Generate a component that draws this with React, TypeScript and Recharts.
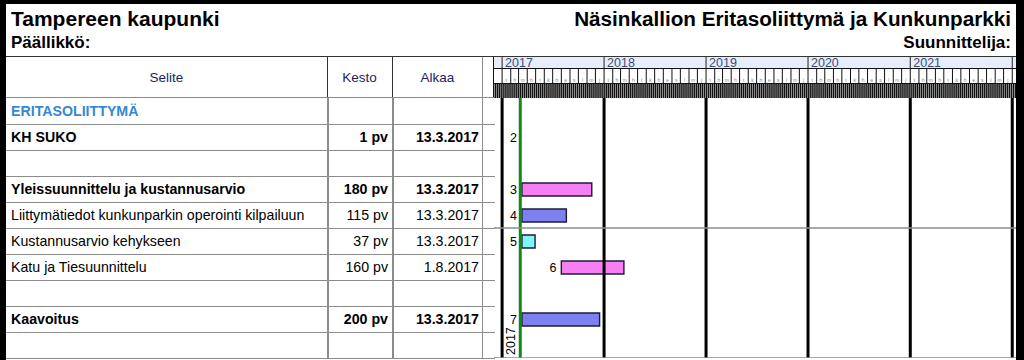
import React from 'react';
import { BarChart, Bar, XAxis, YAxis, ReferenceLine, LabelList, Cell } from 'recharts';

// rows of the schedule table, top to bottom
const taskIds = ['', '2', '', '3', '4', '5', '6', '', '7', ''];
const taskNames = [
  'ERITASOLIITTYMÄ',
  'KH SUKO',
  '',
  'Yleissuunnittelu ja kustannusarvio',
  'Liittymätiedot kunkunparkin operointi kilpailuun',
  'Kustannusarvio kehykseen',
  'Katu ja Tiesuunnittelu',
  '',
  'Kaavoitus',
  '',
];
const durations = ['', '1 pv', '', '180 pv', '115 pv', '37 pv', '160 pv', '', '200 pv', ''];
const startDates = ['', '13.3.2017', '', '13.3.2017', '13.3.2017', '13.3.2017', '1.8.2017', '', '13.3.2017', ''];
// where each bar ends (exclusive)
const endDates = ['', '14.3.2017', '', '18.11.2017', '19.8.2017', '29.4.2017', '13.3.2018', '', '16.12.2017', ''];
const boldRows = [true, true, false, true, false, false, false, false, true, false];

const years = [2017, 2018, 2019, 2020, 2021, 2022];
const monthInitials = ['t', 'h', 'm', 'h', 't', 'k', 'h', 'e', 's', 'l', 'm', 'j'];
const todayDate = '7.3.2017';
const viewStart = '3.12.2016';
const viewEnd = '18.1.2022';

const barColors: Record<string, string> = {
  '3': '#f67ff1',
  '4': '#7e80ef',
  '5': '#7ff6f3',
  '6': '#f67ff1',
  '7': '#7e80ef',
};

const BASE = Date.UTC(2017, 0, 1);
const DAY_MS = 86400000;
const day = (s: string) => {
  const [d, m, y] = s.split('.').map(Number);
  return Math.round((Date.UTC(y, m - 1, d) - BASE) / DAY_MS);
};
const domain: [number, number] = [day(viewStart), day(viewEnd)];

const yearTicks = years.map((y) => day(`1.1.${y}`));
const monthTicks: number[] = [];
for (let y = 2016; y <= 2022; y++) {
  for (let m = 1; m <= 12; m++) {
    const d = day(`1.${m}.${y}`);
    if (d >= domain[0] && d <= domain[1]) monthTicks.push(d);
  }
}
const weekTicks: number[] = [];
for (let d = day('5.12.2016'); d <= domain[1]; d += 7) weekTicks.push(d);

const FONT = '"Liberation Sans", Arial, sans-serif';
const ROW_TOP = 98;
const ROW_H = 26;
const BODY_FS = 14.2;

const YearTick = (props: any) => {
  const { x, y, payload, index } = props;
  const yr = new Date(BASE + payload.value * DAY_MS).getUTCFullYear();
  return (
    <g>
      <line x1={x} x2={x} y1={y - 11} y2={y} stroke="#222" strokeWidth={1} />
      {index < years.length - 1 && (
        <text x={x + 3} y={y - 1.5} fontSize={12.5} fill="#3c4a7a" fontFamily={FONT}>
          {yr}
        </text>
      )}
    </g>
  );
};

const MonthTick = (props: any) => {
  const { x, y, payload } = props;
  const m = new Date(BASE + payload.value * DAY_MS).getUTCMonth();
  return (
    <g>
      <line x1={x} x2={x} y1={y - 15} y2={y} stroke="#111" strokeWidth={1} />
      <text x={x + 4.2} y={y - 1} fontSize={5} fill="#888" textAnchor="middle" fontFamily={FONT}>
        {monthInitials[m]}
      </text>
    </g>
  );
};

const WeekTick = (props: any) => {
  const { x, y } = props;
  return <rect x={x} y={y - 14} width={1.5} height={14} fill="#111" />;
};

const YearFooter = (props: any) => {
  const vb = props.viewBox || {};
  const tx = (vb.x ?? 0) + 13;
  const ty = (vb.y ?? 0) + (vb.height ?? 0) - 3;
  return (
    <text x={tx} y={ty} transform={`rotate(-90 ${tx} ${ty})`} fontSize={12.5} fill="#000" fontFamily={FONT}>
      2017
    </text>
  );
};

export default function App() {
  const data = taskIds.map((id, i) => ({
    key: `r${i}`,
    id,
    span: startDates[i] ? [day(startDates[i]), day(endDates[i])] : null,
  }));

  const line = (left: number, top: number, width: number, height: number, color: string) => (
    <div style={{ position: 'absolute', left, top, width, height, background: color }} />
  );

  const textStyle = (fs: number, top: number): React.CSSProperties => ({
    position: 'absolute',
    top,
    fontSize: fs,
    lineHeight: `${fs}px`,
    fontWeight: 'bold',
    whiteSpace: 'nowrap',
  });

  return (
    <div
      style={{
        position: 'absolute',
        left: 0,
        top: 0,
        width: 1024,
        height: 360,
        background: '#fff',
        overflow: 'hidden',
        fontFamily: FONT,
        color: '#000',
      }}
    >
      {/* titles */}
      <div style={{ ...textStyle(21, 8.2), left: 11 }}>Tampereen kaupunki</div>
      <div style={{ ...textStyle(17, 34.3), left: 11 }}>Päällikkö:</div>
      <div style={{ ...textStyle(20.7, 8.5), right: 13 }}>Näsinkallion Eritasoliittymä ja Kunkunparkki</div>
      <div style={{ ...textStyle(17, 34.3), right: 13 }}>Suunnittelija:</div>

      {/* timeline header bands */}
      {line(494, 57, 523, 11, '#e7eef9')}
      {line(494, 68, 523, 1, '#111')}
      {line(494, 83, 523, 1, '#111')}

      {/* table header */}
      {line(6, 56, 1011, 1, '#333')}
      {[
        ['Selite', 6, 321],
        ['Kesto', 327, 65],
        ['Alkaa', 392, 91],
      ].map(([t, l, w]) => (
        <div
          key={t as string}
          style={{
            position: 'absolute',
            left: l as number,
            width: w as number,
            top: 57,
            height: 41,
            lineHeight: '41px',
            textAlign: 'center',
            fontSize: 13.5,
            color: '#1d1d5e',
          }}
        >
          {t}
        </div>
      ))}
      {line(327, 57, 1, 41, '#333')}
      {line(392, 57, 1, 41, '#333')}
      {line(482, 57, 1, 301, '#8c8c8c')}
      {line(493, 57, 1, 41, '#111')}
      {line(327, 98, 1.5, 260, '#8c8c8c')}
      {line(392, 98, 1.5, 260, '#8c8c8c')}
      {line(6, 97, 489, 1, '#8c8c8c')}

      {/* table body */}
      {taskNames.map((name, i) => {
        const top = ROW_TOP + i * ROW_H;
        const bold = boldRows[i];
        const isGroup = i === 0;
        const cell: React.CSSProperties = {
          position: 'absolute',
          top,
          height: ROW_H,
          lineHeight: `${ROW_H}px`,
          fontSize: BODY_FS,
          fontWeight: bold ? 'bold' : 'normal',
          whiteSpace: 'nowrap',
        };
        return (
          <React.Fragment key={i}>
            <div style={{ ...cell, left: 11, color: isGroup ? '#3588d6' : '#000' }}>{name}</div>
            <div style={{ ...cell, left: 327, width: 61, textAlign: 'right' }}>{durations[i]}</div>
            <div style={{ ...cell, left: 392, width: 87, textAlign: 'right' }}>{startDates[i]}</div>
            {line(6, top + ROW_H - 0.5, 489, 1, '#8c8c8c')}
          </React.Fragment>
        );
      })}

      {/* gantt */}
      <div style={{ position: 'absolute', left: 494, top: 57 }}>
        <BarChart
          width={523}
          height={301}
          data={data}
          layout="vertical"
          margin={{ top: 0, right: 0, bottom: 0, left: 0 }}
          barSize={13}
        >
          <XAxis
            xAxisId="a_wk"
            orientation="top"
            type="number"
            domain={domain}
            allowDataOverflow
            ticks={weekTicks}
            interval={0}
            height={15}
            tick={<WeekTick />}
            tickSize={0}
            tickMargin={0}
            axisLine={false}
            tickLine={false}
          />
          <XAxis
            xAxisId="b_mo"
            orientation="top"
            type="number"
            domain={domain}
            allowDataOverflow
            ticks={monthTicks}
            interval={0}
            height={15}
            tick={<MonthTick />}
            tickSize={0}
            tickMargin={0}
            axisLine={false}
            tickLine={false}
          />
          <XAxis
            xAxisId="c_yr"
            orientation="top"
            type="number"
            domain={domain}
            allowDataOverflow
            ticks={yearTicks}
            interval={0}
            height={11}
            tick={<YearTick />}
            tickSize={0}
            tickMargin={0}
            axisLine={false}
            tickLine={false}
          />
          <YAxis type="category" dataKey="key" hide />
          {yearTicks.map((d, i) => (
            <ReferenceLine
              key={d}
              xAxisId="a_wk"
              x={d}
              stroke="#000"
              strokeWidth={3}
              label={i === 0 ? YearFooter : undefined}
            />
          ))}
          <ReferenceLine xAxisId="a_wk" x={day(todayDate)} stroke="#108a14" strokeWidth={3} />
          <ReferenceLine xAxisId="a_wk" y="r5" position="start" stroke="#8c8c8c" strokeWidth={1.5} />
          <ReferenceLine xAxisId="a_wk" y="r9" position="end" stroke="#8c8c8c" strokeWidth={1.5} />
          <Bar xAxisId="a_wk" dataKey="span" isAnimationActive={false}>
            {data.map((r) => (
              <Cell
                key={r.key}
                fill={barColors[r.id] ?? 'transparent'}
                stroke={barColors[r.id] ? '#1c1c3a' : 'none'}
                strokeWidth={1.4}
              />
            ))}
            <LabelList dataKey="id" position="left" offset={5} fontSize={12.5} fill="#000" fontFamily={FONT} />
          </Bar>
        </BarChart>
      </div>

      {/* frame */}
      {line(0, 0, 1024, 4, '#000')}
      {line(0, 0, 6, 360, '#000')}
      {line(1016, 0, 8, 360, '#000')}
    </div>
  );
}
